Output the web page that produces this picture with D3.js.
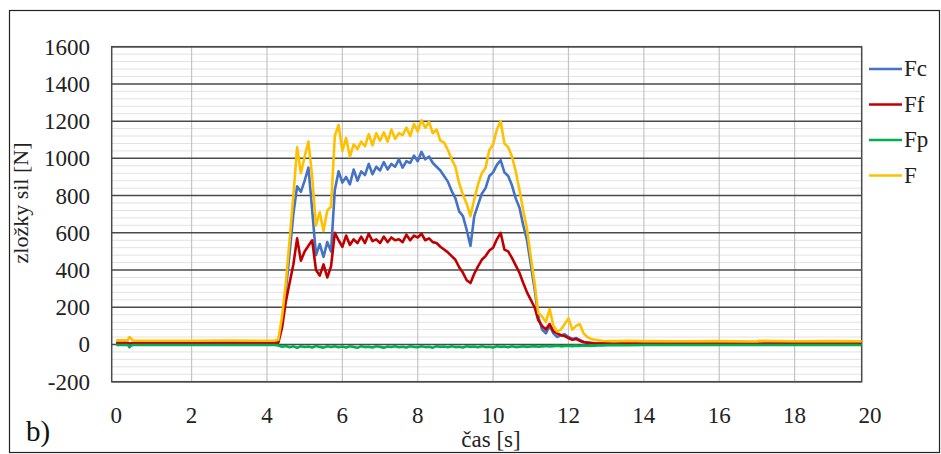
<!DOCTYPE html>
<html>
<head>
<meta charset="utf-8">
<script src="https://cdn.jsdelivr.net/npm/d3@7"></script>
<style>
  body { margin: 0; background: #fff; }
  svg { display: block; }
</style>
</head>
<body>
<svg id="chart" width="941" height="454"></svg>
<script>
// time axis [s]
var time = [0, 0.3, 0.35, 0.45, 1, 2, 3, 4, 4.2,
  4.3, 4.4, 4.5, 4.6, 4.7, 4.8, 4.9, 5.0, 5.1, 5.2, 5.3, 5.4, 5.5, 5.6, 5.7, 5.8, 5.9,
  6.0, 6.1, 6.2, 6.3, 6.4, 6.5, 6.6, 6.7, 6.8, 6.9, 7.0, 7.1, 7.2, 7.3, 7.4, 7.5, 7.6, 7.7, 7.8, 7.9,
  8.0, 8.1, 8.2, 8.3, 8.4, 8.5, 8.6, 8.7, 8.8, 8.9, 9.0, 9.1, 9.2, 9.3, 9.4, 9.5, 9.6, 9.7, 9.8, 9.9,
  10.0, 10.1, 10.2, 10.3, 10.4, 10.5, 10.6, 10.7, 10.8, 10.9, 11.0, 11.1, 11.2, 11.3, 11.4, 11.5, 11.6, 11.7, 11.8, 11.9,
  12.0, 12.1, 12.2, 12.3, 12.4, 12.5, 12.6, 12.7, 12.8, 12.9,
  13.2, 13.6, 14, 15, 16, 17, 17.05, 18, 19, 19.8];

var fc = [10, 10, -15, 8, 10, 10, 10, 10, 10,
  15, 120, 290, 490, 700, 850, 820, 880, 950, 720, 480, 540, 470, 550, 500, 830, 930,
  870, 900, 860, 940, 880, 930, 910, 970, 915, 955, 935, 980, 940, 970, 955, 995, 950, 985, 975, 1015,
  985, 1035, 995, 1010, 975, 955, 935, 905, 875, 825, 785, 715, 690, 615, 530, 690, 750, 810, 840, 905,
  925, 965, 990, 925, 905, 855, 785, 735, 640, 560, 430, 300, 150, 80, 60, 100, 60, 40, 50, 55,
  40, 30, 35, 25, 15, 10, 8, 6, 5, 5,
  5, 5, 5, 4, 5, 4, 0, 5, 5, 5];

var ff = [8, 8, 5, 8, 8, 8, 8, 8, 8,
  10, 90, 230, 330, 430, 570, 450, 500, 530, 560, 400, 370, 430, 360, 420, 600, 560,
  525, 585, 535, 565, 545, 580, 545, 595, 555, 565, 545, 580, 550, 575, 560, 565, 550, 590, 560, 585,
  575, 595, 560, 570, 550, 545, 525, 510, 495, 475, 455, 415, 385, 345, 330, 380, 420, 455, 475, 505,
  520, 565, 600, 510, 500, 465, 425, 385, 330, 280, 240, 200, 130, 100, 80, 110, 70, 60, 50, 45,
  35, 25, 30, 20, 12, 10, 8, 6, 5, 5,
  5, 5, 5, 5, 5, 5, 5, 5, 5, 5];

var fp = [-3, -3, -8, -3, -3, -3, -3, -3, -3,
  -5, -12, -8, -15, -10, -18, -9, -14, -11, -16, -8, -13, -17, -10, -14, -9, -15,
  -11, -16, -10, -13, -18, -9, -14, -12, -16, -10, -13, -17, -11, -14, -9, -15, -12, -16, -10, -13,
  -15, -10, -14, -12, -17, -9, -13, -11, -15, -10, -14, -12, -16, -9, -13, -11, -15, -10, -14, -12,
  -16, -10, -13, -11, -15, -9, -14, -12, -10, -13, -11, -9, -12, -10, -8, -11, -9, -7, -10, -8,
  -7, -9, -6, -8, -5, -7, -5, -6, -4, -5,
  -3, -4, -3, -3, -3, -3, -3, -3, -3, -3];

var f = [22, 22, 40, 20, 20, 20, 21, 20, 20,
  25, 150, 330, 560, 800, 1060, 920, 1010, 1090, 900, 640, 710, 610, 720, 740, 1120, 1180,
  1040, 1110, 1010, 1075, 1050, 1090, 1065, 1130, 1070, 1135, 1095, 1140, 1090, 1155, 1105, 1135, 1125, 1165, 1120, 1185,
  1145, 1205, 1165, 1195, 1135, 1155, 1095, 1085, 1045, 995, 955, 865, 805, 755, 690, 780, 860, 920, 950, 1045,
  1075, 1155, 1200, 1080, 1060, 1010, 930, 830, 720, 620, 470, 330, 170, 150, 120, 190, 100, 70, 80, 110,
  140, 80, 100, 110, 60, 40, 30, 25, 22, 20,
  18, 20, 18, 17, 18, 16, 20, 17, 18, 17];

var seriesNames = ['Fc', 'Ff', 'Fp', 'F'];
var seriesColors = ['#4472C4', '#C00000', '#00B050', '#FFC000'];
var seriesValues = [fc, ff, fp, f];

var yTicks = [-200, 0, 200, 400, 600, 800, 1000, 1200, 1400, 1600];
var xTicks = [0, 2, 4, 6, 8, 10, 12, 14, 16, 18, 20];

const svg = d3.select('#chart');
const serif = 'Times New Roman, Times, Liberation Serif, DejaVu Serif, Noto Serif, serif';
const plotLeft = 111.7, plotRight = 861.7, plotTop = 46.7, plotBottom = 381.7;

// outer frame
svg.append('rect').attr('x', 9.5).attr('y', 10.5).attr('width', 930).attr('height', 442)
  .attr('fill', 'none').attr('stroke', '#222').attr('stroke-width', 1.2);

const x = d3.scaleLinear().domain([-0.12, 19.78]).range([plotLeft, plotRight]);
const y = d3.scaleLinear().domain([-200, 1600]).range([plotBottom, plotTop]);

// minor horizontal grid
const minor = d3.range(-200, 1601, 40).filter(v => v % 200 !== 0);
svg.append('g').selectAll('line').data(minor).join('line')
  .attr('x1', plotLeft).attr('x2', plotRight)
  .attr('y1', d => y(d)).attr('y2', d => y(d))
  .attr('stroke', '#e2e2e2').attr('stroke-width', 1);

// vertical grid
svg.append('g').selectAll('line').data(xTicks.filter(d => d > 0 && d < 20)).join('line')
  .attr('x1', d => x(d)).attr('x2', d => x(d))
  .attr('y1', plotTop).attr('y2', plotBottom)
  .attr('stroke', '#c4c4c4').attr('stroke-width', 1.2);

// major horizontal grid
svg.append('g').selectAll('line').data(yTicks).join('line')
  .attr('x1', plotLeft).attr('x2', plotRight)
  .attr('y1', d => y(d)).attr('y2', d => y(d))
  .attr('stroke', '#4a4a4a').attr('stroke-width', 1.5);

// plot border
svg.append('rect').attr('x', plotLeft).attr('y', plotTop)
  .attr('width', plotRight - plotLeft).attr('height', plotBottom - plotTop)
  .attr('fill', 'none').attr('stroke', '#4a4a4a').attr('stroke-width', 1.5);

// series
svg.append('clipPath').attr('id', 'plotclip').append('rect')
  .attr('x', plotLeft).attr('y', plotTop)
  .attr('width', plotRight - plotLeft).attr('height', plotBottom - plotTop);
const line = d3.line().x((d, i) => x(time[i])).y(d => y(d));
const lines = svg.append('g').attr('clip-path', 'url(#plotclip)');
seriesValues.forEach(function (vals, k) {
  lines.append('path').datum(vals).attr('d', line)
    .attr('fill', 'none').attr('stroke', seriesColors[k]).attr('stroke-width', 2.6)
    .attr('stroke-linejoin', 'round');
});

// y tick labels
svg.append('g').selectAll('text').data(yTicks).join('text')
  .attr('x', 90).attr('y', d => y(d) + 8)
  .attr('text-anchor', 'end').style('font-family', serif).attr('font-size', 23).attr('fill', '#222')
  .text(d => d);

// x tick labels
svg.append('g').selectAll('text').data(xTicks).join('text')
  .attr('x', d => x(d)).attr('y', 423)
  .attr('text-anchor', 'middle').style('font-family', serif).attr('font-size', 23).attr('fill', '#222')
  .text(d => d);

// axis titles
svg.append('text').attr('x', 491).attr('y', 447).attr('text-anchor', 'middle')
  .style('font-family', serif).attr('font-size', 23).attr('fill', '#222').text('čas [s]');
svg.append('text').attr('transform', 'translate(28,203) rotate(-90)').attr('text-anchor', 'middle')
  .style('font-family', serif).attr('font-size', 22).attr('fill', '#222').text('zložky sil [N]');
svg.append('text').attr('x', 26).attr('y', 441).style('font-family', serif)
  .attr('font-size', 29).attr('fill', '#111').text('b)');

// legend
const legend = svg.append('g');
seriesNames.forEach(function (name, k) {
  const ly = 69 + k * 35.5;
  legend.append('line').attr('x1', 869).attr('x2', 902).attr('y1', ly).attr('y2', ly)
    .attr('stroke', seriesColors[k]).attr('stroke-width', 2.6);
  legend.append('text').attr('x', 904).attr('y', ly + 7).style('font-family', serif)
    .attr('font-size', 23).attr('fill', '#222').text(name);
});
</script>
</body>
</html>
